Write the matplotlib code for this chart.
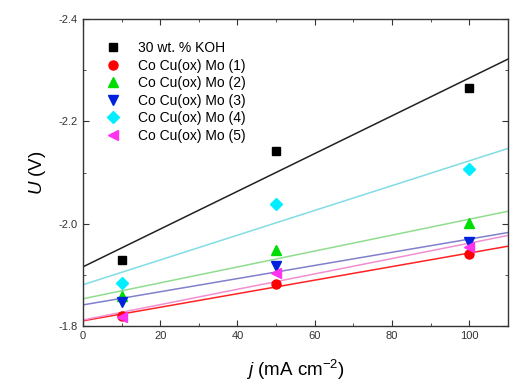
import numpy as np
import matplotlib
matplotlib.use("Agg")
import matplotlib.pyplot as plt
from matplotlib.ticker import MultipleLocator

plt.rcParams['font.family'] = ['Liberation Sans', 'DejaVu Sans']
plt.rcParams['mathtext.fontset'] = 'custom'
plt.rcParams['mathtext.rm'] = 'Liberation Sans'
plt.rcParams['mathtext.it'] = 'Liberation Sans:italic'

j = [10, 50, 100]
labels = ["30 wt. % KOH", "Co Cu(ox) Mo (1)", "Co Cu(ox) Mo (2)",
          "Co Cu(ox) Mo (3)", "Co Cu(ox) Mo (4)", "Co Cu(ox) Mo (5)"]
koh = [-1.929, -2.143, -2.266]
s1 = [-1.820, -1.883, -1.940]
s2 = [-1.859, -1.949, -2.001]
s3 = [-1.848, -1.917, -1.965]
s4 = [-1.885, -2.038, -2.107]
s5 = [-1.818, -1.903, -1.955]
series = [koh, s1, s2, s3, s4, s5]

marker_colors = ['black', '#ff0000', '#00dd00', '#0022dd', '#00eeff', '#ff33ee']
line_colors = ['#222222', '#ff2222', '#90dd90', '#8080cc', '#80dde4', '#f090d0']
markers = ['s', 'o', '^', 'v', 'D', '<']
msizes = [5.5, 6.5, 7, 7, 6, 7]

fig = plt.figure(figsize=(5.28, 3.91), dpi=100)
ax = fig.add_axes([0.157, 0.166, 0.805, 0.785])

xfit = np.linspace(0, 110, 50)
for ys, lc in zip(series, line_colors):
    p = np.polyfit(j, ys, 1)
    ax.plot(xfit, np.polyval(p, xfit), color=lc, lw=1.1, zorder=2)
for ys, mc, m, ms, lab in zip(series, marker_colors, markers, msizes, labels):
    ax.plot(j, ys, linestyle='none', marker=m, color=mc, markersize=ms, label=lab, zorder=3)

ax.set_xlim(0, 110)
ax.set_ylim(-1.8, -2.4)
ax.xaxis.set_major_locator(MultipleLocator(20))
ax.xaxis.set_minor_locator(MultipleLocator(10))
ax.yaxis.set_major_locator(MultipleLocator(0.2))
ax.yaxis.set_minor_locator(MultipleLocator(0.1))
ax.yaxis.set_major_formatter(matplotlib.ticker.FormatStrFormatter('%.1f'))
ax.tick_params(which='both', direction='in', top=True, right=True, labelsize=8, colors='#333333')
ax.tick_params(which='major', length=4)
ax.tick_params(which='minor', length=2.5)
for s in ax.spines.values():
    s.set_color('#333333')
    s.set_linewidth(1.0)

ax.set_xlabel(r'$\mathit{j}$ (mA cm$^{-2}$)', fontsize=13.5, labelpad=12)
ax.set_ylabel(r'$\mathit{U}$ (V)', fontsize=13.5, labelpad=8)

ax.legend(loc='upper left', frameon=False, fontsize=10, handlelength=1.0,
          handletextpad=1.3, labelspacing=0.25, borderaxespad=0.0, borderpad=0.0,
          bbox_to_anchor=(0.054, 0.928))

fig.savefig('out.png', dpi=100)
